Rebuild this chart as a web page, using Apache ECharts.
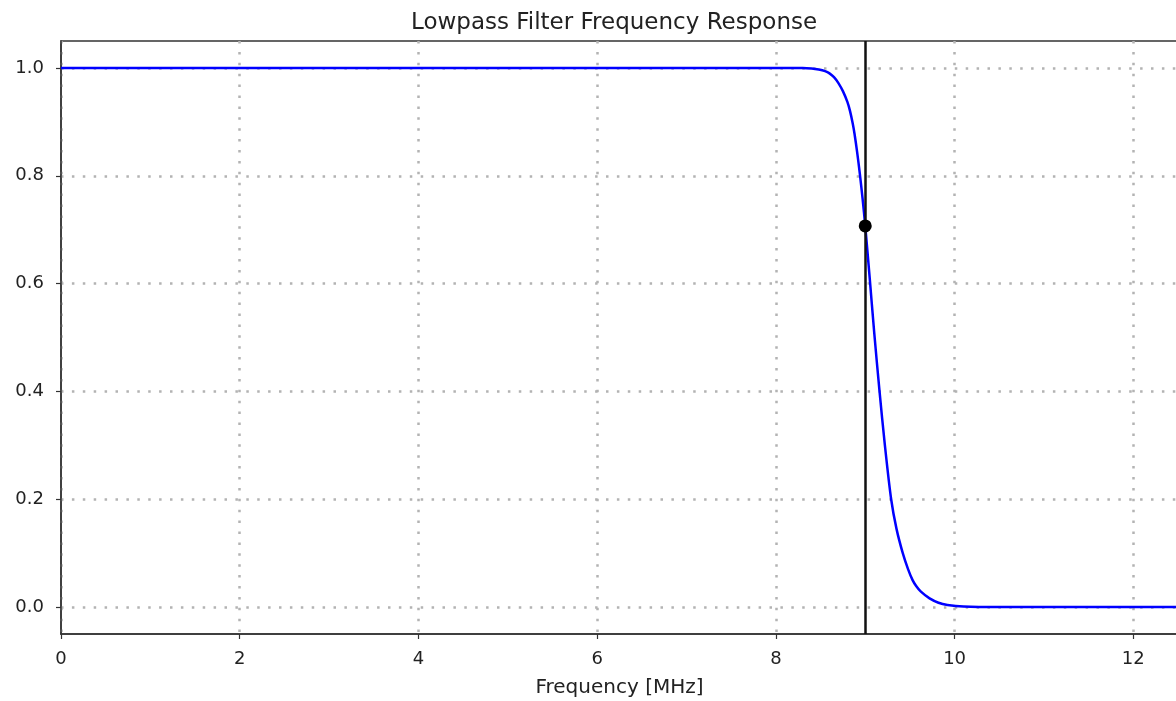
<!DOCTYPE html>
<html>
<head>
<meta charset="utf-8">
<title>Lowpass Filter Frequency Response</title>
<script src="https://cdn.jsdelivr.net/npm/echarts@6/dist/echarts.min.js"></script>
<style>
  html, body { margin: 0; padding: 0; background: #fff; }
  #chart-lowpass { width: 1176px; height: 701px; }
</style>
</head>
<body>
<div id="chart-lowpass"></div>
<script>
// values
let freqMHz = [0, 2, 4, 6, 8, 8.3, 8.4, 8.48, 8.55, 8.6, 8.65, 8.7, 8.75, 8.8, 8.83, 8.86, 8.88, 8.91, 8.94, 8.97, 9.0, 9.05, 9.1, 9.16, 9.22, 9.29, 9.35, 9.42, 9.48, 9.53, 9.57, 9.62, 9.72, 9.82, 9.92, 10.1, 10.5, 11, 12, 12.5];
let magnitude = [1.0, 1.0, 1.0, 1.0, 1.0, 1.0, 0.999, 0.997, 0.994, 0.99, 0.983, 0.972, 0.957, 0.937, 0.92, 0.897, 0.878, 0.843, 0.803, 0.758, 0.707, 0.61, 0.51, 0.40, 0.30, 0.20, 0.145, 0.10, 0.07, 0.05, 0.039, 0.029, 0.016, 0.008, 0.004, 0.001, 0, 0, 0, 0];
let cutoffFreq = 9;
let cutoffGain = 0.707;
let yTicks = [0.0, 0.2, 0.4, 0.6, 0.8, 1.0];

let chartDom = document.getElementById('chart-lowpass');
let myChart = echarts.init(chartDom, null, {renderer: 'canvas'});

let textColor = '#222';
let frameColor = '#333';
let gridLine = {
    show: true,
    lineStyle: {color: '#b3b3b3', width: 2.5, type: [2.5, 8.4]}
};

let option = {
    animation: false,
    backgroundColor: '#fff',
    title: {
        text: 'Lowpass Filter Frequency Response',
        left: 406,
        top: 7,
        textStyle: {fontFamily: 'DejaVu Sans', fontSize: 23, fontWeight: 'normal', color: textColor}
    },
    grid: {
        left: 61,
        right: -2,
        top: 41,
        bottom: 67,
        outerBoundsMode: 'none',
        show: true,
        borderColor: frameColor,
        borderWidth: 1.5
    },
    xAxis: {
        type: 'value',
        min: 0,
        max: 12.5,
        interval: 2,
        name: 'Frequency [MHz]',
        nameLocation: 'middle',
        nameGap: 44,
        nameTextStyle: {fontFamily: 'DejaVu Sans', fontSize: 20, color: textColor},
        axisLine: {show: true, onZero: false, lineStyle: {color: frameColor, width: 1.5}},
        axisTick: {show: true, length: 5, lineStyle: {color: frameColor, width: 1.2}},
        axisLabel: {
            margin: 16,
            fontFamily: 'DejaVu Sans',
            fontSize: 18,
            color: textColor,
            showMaxLabel: false
        },
        splitLine: gridLine
    },
    yAxis: {
        type: 'value',
        min: -0.05,
        max: 1.05,
        axisLine: {show: true, onZero: false, lineStyle: {color: frameColor, width: 1.5}},
        axisTick: {show: true, length: 5, customValues: yTicks, lineStyle: {color: frameColor, width: 1.2}},
        axisLabel: {
            margin: 17,
            customValues: yTicks,
            fontFamily: 'DejaVu Sans',
            fontSize: 18,
            color: textColor,
            formatter: function (value) {
                return value.toFixed(1);
            }
        },
        splitLine: gridLine
    },
    series: [
        {
            name: 'Magnitude',
            type: 'line',
            smooth: 0.3,
            showSymbol: false,
            lineStyle: {color: '#0000ff', width: 2.5},
            data: freqMHz.map(function (f, i) { return [f, magnitude[i]]; }),
            markLine: {
                silent: true,
                symbol: 'none',
                label: {show: false},
                lineStyle: {color: '#111', width: 2.5, type: 'solid'},
                data: [{xAxis: cutoffFreq}]
            },
            z: 3
        },
        {
            name: 'Cutoff',
            type: 'scatter',
            symbol: 'circle',
            symbolSize: 13,
            itemStyle: {color: '#000', opacity: 1},
            data: [[cutoffFreq, cutoffGain]],
            z: 5
        }
    ]
};

option && myChart.setOption(option);
</script>
</body>
</html>
